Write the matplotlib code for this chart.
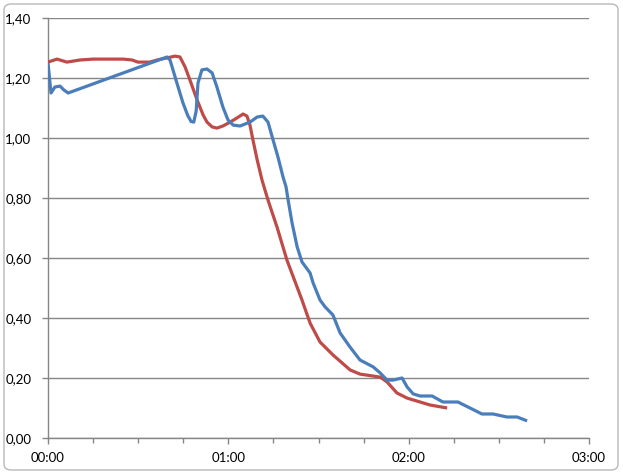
import matplotlib.pyplot as plt
import matplotlib
from matplotlib.patches import FancyBboxPatch
from matplotlib.ticker import MultipleLocator, FixedLocator

plt.rcParams['font.family'] = ['Lato', 'DejaVu Sans']

# time in minutes
blue_t = [0, 1.0, 2.3, 4.0, 5.3, 6.7, 39.6, 40.6, 42.9, 44.9, 46.5, 47.6, 48.5, 49.3,
          49.9, 51.2, 52.9, 54.6, 56.2, 58.2, 59.9, 61.6, 63.9, 67.2, 69.6, 71.5,
          73.2, 74.9, 76.5, 78.2, 79.2, 79.9, 81.2, 82.9, 84.5, 87.2, 88.2, 90.5,
          92.2, 94.8, 97.2, 100.5, 103.8, 108.2, 110.5, 112.8, 114.8, 117.8, 119.5,
          121.5, 123.8, 127.8, 131.4, 136.4, 140.4, 144.4, 148.1, 152.7, 156.1, 159.4]
blue_v = [1.25, 1.15, 1.17, 1.173, 1.16, 1.15, 1.27, 1.26, 1.183, 1.117, 1.075, 1.055,
          1.053, 1.09, 1.183, 1.227, 1.23, 1.217, 1.17, 1.103, 1.06, 1.043, 1.04,
          1.053, 1.07, 1.073, 1.053, 0.993, 0.937, 0.87, 0.837, 0.793, 0.717, 0.637,
          0.587, 0.55, 0.517, 0.46, 0.437, 0.41, 0.35, 0.303, 0.26, 0.237, 0.217,
          0.193, 0.193, 0.2, 0.17, 0.147, 0.14, 0.14, 0.12, 0.12, 0.1, 0.08, 0.08,
          0.07, 0.07, 0.057]

red_t = [0, 3.0, 6.3, 10.6, 15.0, 25.0, 28.0, 29.9, 33.9, 36.3, 39.6, 42.3, 43.9,
         45.6, 47.6, 49.6, 51.6, 52.9, 54.6, 56.2, 58.2, 60.6, 62.9, 64.9, 66.2,
         67.2, 68.2, 69.6, 71.2, 73.2, 76.2, 79.5, 84.5, 87.2, 90.5, 94.8, 100.5,
         103.8, 110.5, 112.8, 116.1, 119.5, 127.1, 132.8]
red_v = [1.253, 1.263, 1.253, 1.26, 1.263, 1.263, 1.26, 1.253, 1.253, 1.26, 1.267,
         1.273, 1.27, 1.237, 1.183, 1.127, 1.077, 1.053, 1.037, 1.033, 1.04, 1.053,
         1.067, 1.08, 1.073, 1.043, 0.993, 0.927, 0.86, 0.793, 0.703, 0.593, 0.46,
         0.383, 0.32, 0.277, 0.227, 0.213, 0.203, 0.187, 0.15, 0.133, 0.11, 0.1]

x_ticks = [0, 60, 120, 180]
x_labels = ['00:00', '01:00', '02:00', '03:00']
y_ticks = [0, 0.2, 0.4, 0.6, 0.8, 1.0, 1.2, 1.4]
y_labels = ['0,00', '0,20', '0,40', '0,60', '0,80', '1,00', '1,20', '1,40']

fig = plt.figure(figsize=(6.23, 4.75), dpi=100)
fig.patch.set_facecolor('white')

# chart area border
border = FancyBboxPatch((4 / 623, 5 / 475), 614 / 623, 466 / 475,
                        boxstyle='round,pad=0,rounding_size=0.012',
                        transform=fig.transFigure, facecolor='white',
                        edgecolor='#b8b8b8', linewidth=1.0, zorder=-10)
fig.add_artist(border)

ax = fig.add_axes([48 / 623, 37 / 475, 541 / 623, 420 / 475])
ax.set_facecolor('none')
ax.set_zorder(5)

ax.plot(red_t, red_v, color='#be4b48', linewidth=2.3, solid_capstyle='butt',
        solid_joinstyle='round', zorder=3)
ax.plot(blue_t, blue_v, color='#4a7ebb', linewidth=2.3, solid_capstyle='butt',
        solid_joinstyle='round', zorder=4)

ax.set_xlim(0, 180)
ax.set_ylim(0, 1.4)
ax.xaxis.set_major_locator(FixedLocator(x_ticks))
ax.set_xticklabels(x_labels)
ax.xaxis.set_minor_locator(MultipleLocator(15))
ax.set_yticks(y_ticks)
ax.set_yticklabels(y_labels)

ax.grid(axis='y', color='#868686', linewidth=1.0)
ax.set_axisbelow(True)
for s in ['top', 'right']:
    ax.spines[s].set_visible(False)
for s in ['left', 'bottom']:
    ax.spines[s].set_color('#868686')
    ax.spines[s].set_linewidth(1.0)

ax.tick_params(axis='both', which='major', direction='out', length=4, width=1,
               color='#868686', labelsize=9.5, labelcolor='black')
ax.tick_params(axis='x', which='minor', direction='out', length=3.5, width=1,
               color='#868686')
ax.tick_params(axis='x', which='major', pad=6)
ax.tick_params(axis='y', which='major', pad=8)

fig.savefig('out.png', dpi=100, facecolor='white')
